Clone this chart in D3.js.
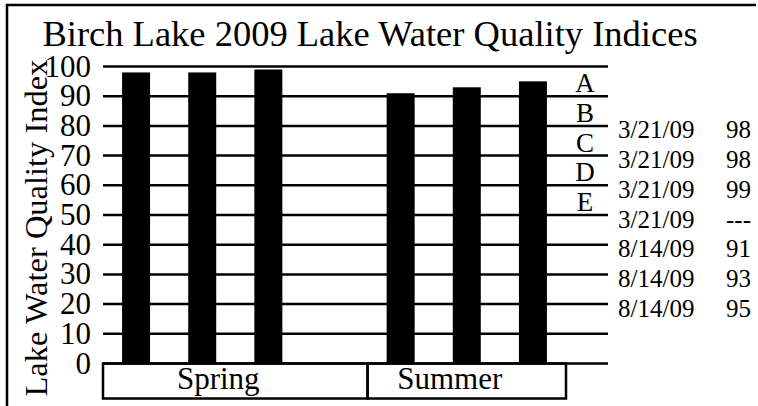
<!DOCTYPE html>
<html>
<head>
<meta charset="utf-8">
<script src="https://cdn.jsdelivr.net/npm/d3@7"></script>
<style>
  body { margin: 0; background: #fff; }
  text { font-family: "Liberation Serif", "Times New Roman", serif; fill: #000; }
</style>
</head>
<body>
<div id="canvas"></div>
<script>
const sampleDates = ["3/21/09", "3/21/09", "3/21/09", "3/21/09", "8/14/09", "8/14/09", "8/14/09"];
const sampleSeasons = ["Spring", "Spring", "Spring", "Spring", "Summer", "Summer", "Summer"];
const indexValues = [98, 98, 99, null, 91, 93, 95];
const seasons = ["Spring", "Summer"];
const grades = ["A", "B", "C", "D", "E"];
const yTicks = [0, 10, 20, 30, 40, 50, 60, 70, 80, 90, 100];

const w = 758;
const h = 406;
const margin = {
  top: 66.5,
  bottom: 43,
  left: 103,
  right: 192
}

function render(){
  const width = w - (margin.left + margin.right);
  const height = h - (margin.top + margin.bottom);

  let svg = d3.select("#canvas")
                .append("svg")
                .attr("id", "chart")
                .attr("width", w)
                .attr("height", h)

  // outer frame, open at right and bottom
  svg.append("path")
      .attr("d", "M7," + h + "V5H756")
      .attr("fill", "none")
      .attr("stroke", "#000")
      .attr("stroke-width", 2.5)

  svg.append("text")
      .attr("x", 370)
      .attr("y", 46)
      .attr("text-anchor", "middle")
      .style("font-size", "36.5px")
      .text("Birch Lake 2009 Lake Water Quality Indices")

  svg.append("text")
      .attr("transform", "translate(47,228) rotate(-90)")
      .attr("text-anchor", "middle")
      .style("font-size", "32.5px")
      .text("Lake Water Quality Index")

  let chart = svg.append("g")
                  .attr("transform", "translate(" + margin.left + "," + margin.top + ")");

  const x = d3.scaleBand()
              .domain(d3.range(sampleDates.length))
              .range([0, width])
              .paddingInner(0)

  const y = d3.scaleLinear()
              .domain([0, 100])
              .range([height + 0.5, 0])

  const gridEnd = 505;

  // grid lines
  chart.append("g")
      .selectAll("line")
      .data(yTicks)
      .enter()
        .append("line")
        .attr("x1", 0)
        .attr("x2", gridEnd)
        .attr("y1", d => y(d))
        .attr("y2", d => y(d))
        .attr("stroke", "#000")
        .attr("stroke-width", 2.5)

  // y tick labels
  chart.append("g")
      .selectAll("text")
      .data(yTicks)
      .enter()
        .append("text")
        .attr("x", -12)
        .attr("y", d => y(d) + 10)
        .attr("text-anchor", "end")
        .style("font-size", "31px")
        .text(d => d)

  // bars
  chart.append("g")
      .selectAll("rect")
      .data(indexValues.map((v, i) => ({v: v, i: i})).filter(d => d.v != null))
      .enter()
        .append("rect")
        .attr("x", d => x(d.i) + x.bandwidth() / 2 - 14)
        .attr("width", 28)
        .attr("y", d => y(d.v))
        .attr("height", d => y(0) - y(d.v))
        .attr("fill", "#000")

  // season boxes under the axis
  const boxTop = y(0);
  const boxBottom = boxTop + 35;
  let box = chart.append("g")
                  .selectAll("g")
                  .data(seasons)
                  .enter()
                    .append("g")

  box.append("rect")
      .attr("x", s => x(sampleSeasons.indexOf(s)))
      .attr("y", boxTop)
      .attr("width", s => x(sampleSeasons.lastIndexOf(s)) + x.bandwidth() - x(sampleSeasons.indexOf(s)))
      .attr("height", boxBottom - boxTop)
      .attr("fill", "none")
      .attr("stroke", "#000")
      .attr("stroke-width", 2.5)

  box.append("text")
      .attr("x", s => (x(sampleSeasons.indexOf(s)) + x(sampleSeasons.lastIndexOf(s)) + x.bandwidth()) / 2 - 17)
      .attr("y", boxBottom - 10)
      .attr("text-anchor", "middle")
      .style("font-size", "31px")
      .text(s => s)

  // grade letters between the top grid lines
  chart.append("g")
      .selectAll("text")
      .data(grades)
      .enter()
        .append("text")
        .attr("x", 482)
        .attr("y", (g, i) => y(90 - i * 10) - 4)
        .attr("text-anchor", "middle")
        .style("font-size", "27px")
        .text(g => g)

  // sample table at the right
  let rows = chart.append("g")
                  .selectAll("g")
                  .data(sampleDates)
                  .enter()
                    .append("g")
                    .attr("transform", (d, i) => "translate(0," + (y(80 - i * 10) + 12.5) + ")")

  rows.append("text")
      .attr("x", 515)
      .style("font-size", "25px")
      .text(d => d)

  rows.append("text")
      .attr("x", 623)
      .style("font-size", "25px")
      .text((d, i) => indexValues[i] == null ? "---" : indexValues[i])
}

render()
</script>
</body>
</html>
